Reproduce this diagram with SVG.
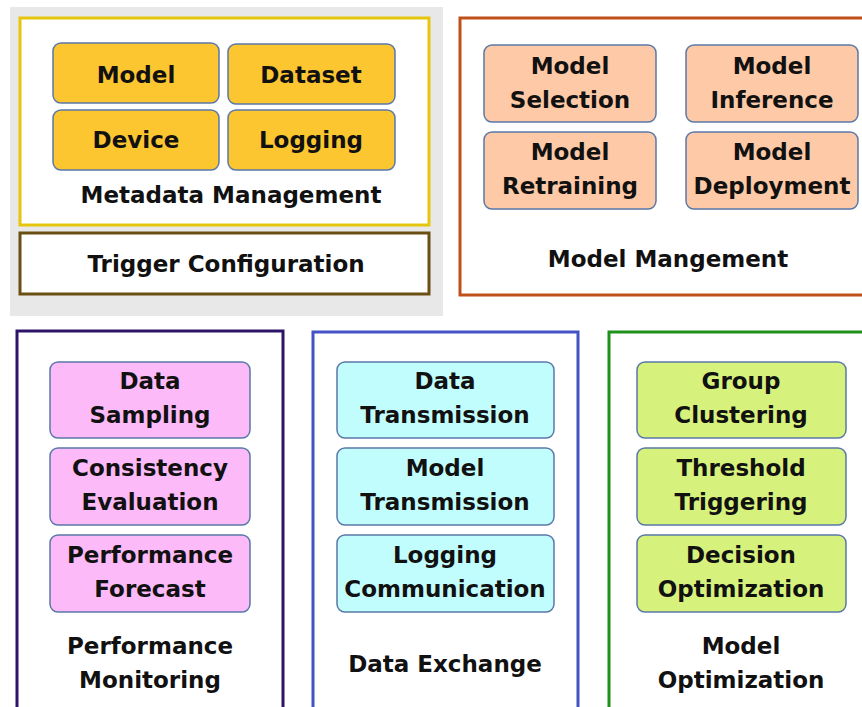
<svg xmlns="http://www.w3.org/2000/svg" width="862" height="707" viewBox="0 0 862 707">
  <style>
    text { font-family: "DejaVu Sans", "Liberation Sans", sans-serif; font-weight: bold; font-size: 23px; fill: #111; text-anchor: middle; }
    .frame { fill: #ffffff; stroke-width: 3; }
    .item { stroke: #5a78a8; stroke-width: 1.5; }
    .meta { fill: #fcc630; }
    .mgmt { fill: #fdc9a6; }
    .mon { fill: #fdbaf9; }
    .xch { fill: #c2fdfd; }
    .opt { fill: #d7f27c; }
  </style>

  <!-- panel behind metadata + trigger blocks -->
  <rect x="10" y="7" width="433" height="309" fill="#e8e8e8"/>

  <g id="metadata-management">
    <rect class="frame" x="20" y="18" width="409" height="207" stroke="#e5c60c"/>
    <g id="meta-model">
      <rect class="item meta" x="53" y="43" width="166" height="60" rx="8"/>
      <text x="136" y="83">Model</text>
    </g>
    <g id="meta-dataset">
      <rect class="item meta" x="228" y="44" width="167" height="60" rx="8"/>
      <text x="311" y="83">Dataset</text>
    </g>
    <g id="meta-device">
      <rect class="item meta" x="53" y="110" width="166" height="60" rx="8"/>
      <text x="136" y="148">Device</text>
    </g>
    <g id="meta-logging">
      <rect class="item meta" x="228" y="110" width="167" height="60" rx="8"/>
      <text x="311" y="148">Logging</text>
    </g>
    <text x="231" y="203">Metadata Management</text>
  </g>

  <g id="trigger-configuration">
    <rect class="frame" x="20" y="233" width="409" height="61" stroke="#6b4e12"/>
    <text x="226" y="272">Trigger Configuration</text>
  </g>

  <g id="model-management">
    <rect class="frame" x="460" y="18" width="410" height="277" stroke="#c0501a"/>
    <g id="model-selection">
      <rect class="item mgmt" x="484" y="45" width="172" height="77" rx="8"/>
      <text x="570" y="74">Model</text>
      <text x="570" y="108">Selection</text>
    </g>
    <g id="model-inference">
      <rect class="item mgmt" x="686" y="45" width="172" height="77" rx="8"/>
      <text x="772" y="74">Model</text>
      <text x="772" y="108">Inference</text>
    </g>
    <g id="model-retraining">
      <rect class="item mgmt" x="484" y="132" width="172" height="77" rx="8"/>
      <text x="570" y="160">Model</text>
      <text x="570" y="194">Retraining</text>
    </g>
    <g id="model-deployment">
      <rect class="item mgmt" x="686" y="132" width="172" height="77" rx="8"/>
      <text x="772" y="160">Model</text>
      <text x="772" y="194">Deployment</text>
    </g>
    <text x="668" y="267">Model Mangement</text>
  </g>

  <g id="performance-monitoring">
    <rect class="frame" x="17" y="331" width="266" height="390" stroke="#2e1468"/>
    <g id="data-sampling">
      <rect class="item mon" x="50" y="362" width="200" height="76" rx="8"/>
      <text x="150" y="389">Data</text>
      <text x="150" y="423">Sampling</text>
    </g>
    <g id="consistency-evaluation">
      <rect class="item mon" x="50" y="448" width="200" height="77" rx="8"/>
      <text x="150" y="476">Consistency</text>
      <text x="150" y="510">Evaluation</text>
    </g>
    <g id="performance-forecast">
      <rect class="item mon" x="50" y="535" width="200" height="77" rx="8"/>
      <text x="150" y="563">Performance</text>
      <text x="150" y="597">Forecast</text>
    </g>
    <text x="150" y="654">Performance</text>
    <text x="150" y="688">Monitoring</text>
  </g>

  <g id="data-exchange">
    <rect class="frame" x="313" y="332" width="265" height="390" stroke="#4352c4"/>
    <g id="data-transmission">
      <rect class="item xch" x="337" y="362" width="217" height="76" rx="8"/>
      <text x="445" y="389">Data</text>
      <text x="445" y="423">Transmission</text>
    </g>
    <g id="model-transmission">
      <rect class="item xch" x="337" y="448" width="217" height="77" rx="8"/>
      <text x="445" y="476">Model</text>
      <text x="445" y="510">Transmission</text>
    </g>
    <g id="logging-communication">
      <rect class="item xch" x="337" y="535" width="217" height="77" rx="8"/>
      <text x="445" y="563">Logging</text>
      <text x="445" y="597">Communication</text>
    </g>
    <text x="445" y="672">Data Exchange</text>
  </g>

  <g id="model-optimization">
    <rect class="frame" x="609" y="332" width="270" height="390" stroke="#1f911a"/>
    <g id="group-clustering">
      <rect class="item opt" x="637" y="362" width="209" height="76" rx="8"/>
      <text x="741" y="389">Group</text>
      <text x="741" y="423">Clustering</text>
    </g>
    <g id="threshold-triggering">
      <rect class="item opt" x="637" y="448" width="209" height="77" rx="8"/>
      <text x="741" y="476">Threshold</text>
      <text x="741" y="510">Triggering</text>
    </g>
    <g id="decision-optimization">
      <rect class="item opt" x="637" y="535" width="209" height="77" rx="8"/>
      <text x="741" y="563">Decision</text>
      <text x="741" y="597">Optimization</text>
    </g>
    <text x="741" y="654">Model</text>
    <text x="741" y="688">Optimization</text>
  </g>

  <!-- no connectors between blocks -->
  <g id="connectors"/>
</svg>
